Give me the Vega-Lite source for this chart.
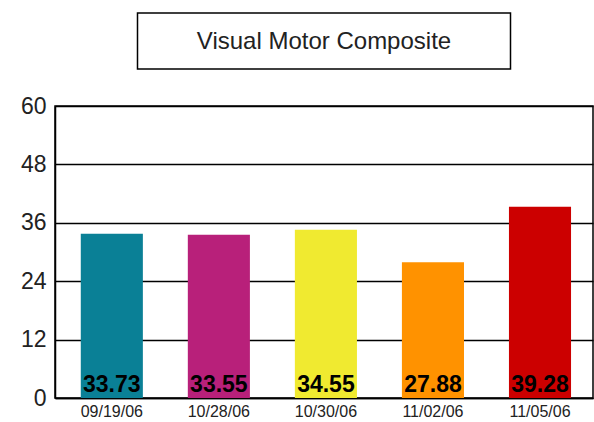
{
  "$schema": "https://vega.github.io/schema/vega-lite/v6.json",
  "background": "white",
  "padding": {"left": 19, "top": 12, "right": 2, "bottom": 5},
  "bounds": "flush",
  "center": true,
  "spacing": 37,
  "config": {"font": "Liberation Sans"},
  "vconcat": [
    {
      "width": 373,
      "height": 56,
      "view": {"stroke": "black", "strokeWidth": 1.5},
      "data": {"values": [{"label": "Visual Motor Composite"}]},
      "mark": {"type": "text", "fontSize": 24, "color": "#222222", "baseline": "middle", "align": "center", "dy": 1},
      "encoding": {"text": {"field": "label"}}
    },
    {
      "width": 538,
      "height": 292,
      "view": {"stroke": "black", "strokeWidth": 1.5},
      "data": {"values": [
        {"date": "09/19/06", "value": 33.73, "color": "#0a8096"},
        {"date": "10/28/06", "value": 33.55, "color": "#b8207a"},
        {"date": "10/30/06", "value": 34.55, "color": "#f0ea30"},
        {"date": "11/02/06", "value": 27.88, "color": "#ff9200"},
        {"date": "11/05/06", "value": 39.28, "color": "#cc0000"}
      ]},
      "encoding": {
        "x": {
          "field": "date", "type": "nominal", "sort": null,
          "scale": {"paddingInner": 0.42, "paddingOuter": 0.223, "align": 0.54},
          "axis": {"title": null, "labelAngle": 0, "labelFontSize": 16, "labelColor": "#222222", "domainColor": "black", "domainWidth": 1.5, "ticks": false, "labelPadding": 5}
        },
        "y": {
          "field": "value", "type": "quantitative",
          "scale": {"domain": [0, 60]},
          "axis": {"title": null, "values": [0, 12, 24, 36, 48, 60], "labelFontSize": 23, "labelColor": "#222222", "gridColor": "black", "gridWidth": 1.5, "domainColor": "black", "domainWidth": 1.5, "ticks": false, "labelPadding": 9}
        }
      },
      "layer": [
        {
          "mark": {"type": "bar"},
          "encoding": {"color": {"field": "color", "type": "nominal", "scale": null}}
        },
        {
          "mark": {"type": "text", "fontSize": 23, "fontWeight": "bold", "color": "black", "baseline": "alphabetic", "dy": -6},
          "encoding": {"y": {"datum": 0}, "text": {"field": "value", "type": "quantitative", "format": ".2f"}}
        }
      ]
    }
  ]
}
